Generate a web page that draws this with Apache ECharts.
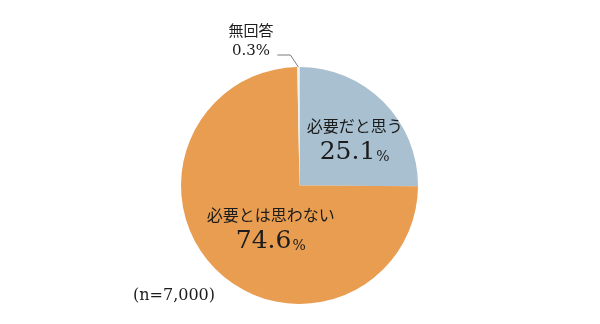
<!DOCTYPE html>
<html>
<head>
<meta charset="utf-8">
<script src="https://cdn.jsdelivr.net/npm/echarts@6/dist/echarts.min.js"></script>
<style>
html,body{margin:0;padding:0;background:#fff;}
#chart{width:600px;height:324px;}
</style>
</head>
<body>
<div id="chart"></div>
<script>
// Answers to the survey question, shares in percent
const categories = ['必要だと思う', '必要とは思わない', '無回答'];
const shares = [25.1, 74.6, 0.3];
const sampleNote = '(n=7,000)';

const colors = ['#a8c0d0', '#e89d50', '#f1f1f1'];
const numFont = '"DejaVu Serif", "Liberation Serif", serif';
const jpFont = '"Noto Sans CJK JP", sans-serif';
const ink = '#1c1c1c';

const chart = echarts.init(document.getElementById('chart'));

// shifts of the inside labels relative to ECharts' default placement
const labelShift = [
  { dx: 11, dy: 0 },
  { dx: 15, dy: 1 }
];

const data = categories.map((name, i) => {
  const item = { name: name, value: shares[i], itemStyle: { color: colors[i] } };
  if (i === 2) {
    // tiny share: label outside, tied to the slice with a leader line
    item.label = {
      position: 'outside',
      align: 'center',
      formatter: p => '{sname|' + p.name + '}\n{sval|' + p.value.toFixed(1) + '%}'
    };
    item.labelLine = { show: true };
  }
  return item;
});

chart.setOption({
  animation: false,
  graphic: [{
    type: 'text',
    left: 133,
    top: 288,
    style: { text: sampleNote, font: '16px ' + numFont, fill: ink }
  }],
  series: [{
    type: 'pie',
    center: [299.5, 185.5],
    radius: [0, 118.5],
    startAngle: 90,
    clockwise: true,
    data: data,
    label: {
      show: true,
      position: 'inside',
      color: ink,
      formatter: p => '{name|' + p.name + '}\n{val|' + p.value.toFixed(1) + '}{pct|%}',
      rich: {
        name: { fontSize: 16, fontFamily: jpFont, color: ink, lineHeight: 22 },
        val: { fontSize: 25, fontFamily: numFont, color: ink, lineHeight: 32 },
        pct: { fontSize: 14, fontFamily: numFont, color: ink, lineHeight: 32, verticalAlign: 'bottom', padding: [0, 0, 4, 1] },
        sname: { fontSize: 15, fontFamily: jpFont, color: ink, lineHeight: 21, align: 'center' },
        sval: { fontSize: 15, fontFamily: numFont, color: ink, lineHeight: 21, align: 'center' }
      }
    },
    labelLine: {
      show: false,
      length: 12,
      length2: 13,
      lineStyle: { color: '#7a7a7a', width: 1 }
    },
    labelLayout: function (p) {
      if (p.dataIndex === 2) {
        const pts = p.labelLinePoints;
        const edge = pts ? pts[0] : [297, 66];
        return {
          x: 251, y: 41, align: 'center', verticalAlign: 'middle',
          labelLinePoints: [
            [edge[0], edge[1]],
            [edge[0] - 8, edge[1] - 12],
            [edge[0] - 21, edge[1] - 12]
          ]
        };
      }
      return labelShift[p.dataIndex];
    },
    emphasis: { disabled: true }
  }]
});
</script>
</body>
</html>
